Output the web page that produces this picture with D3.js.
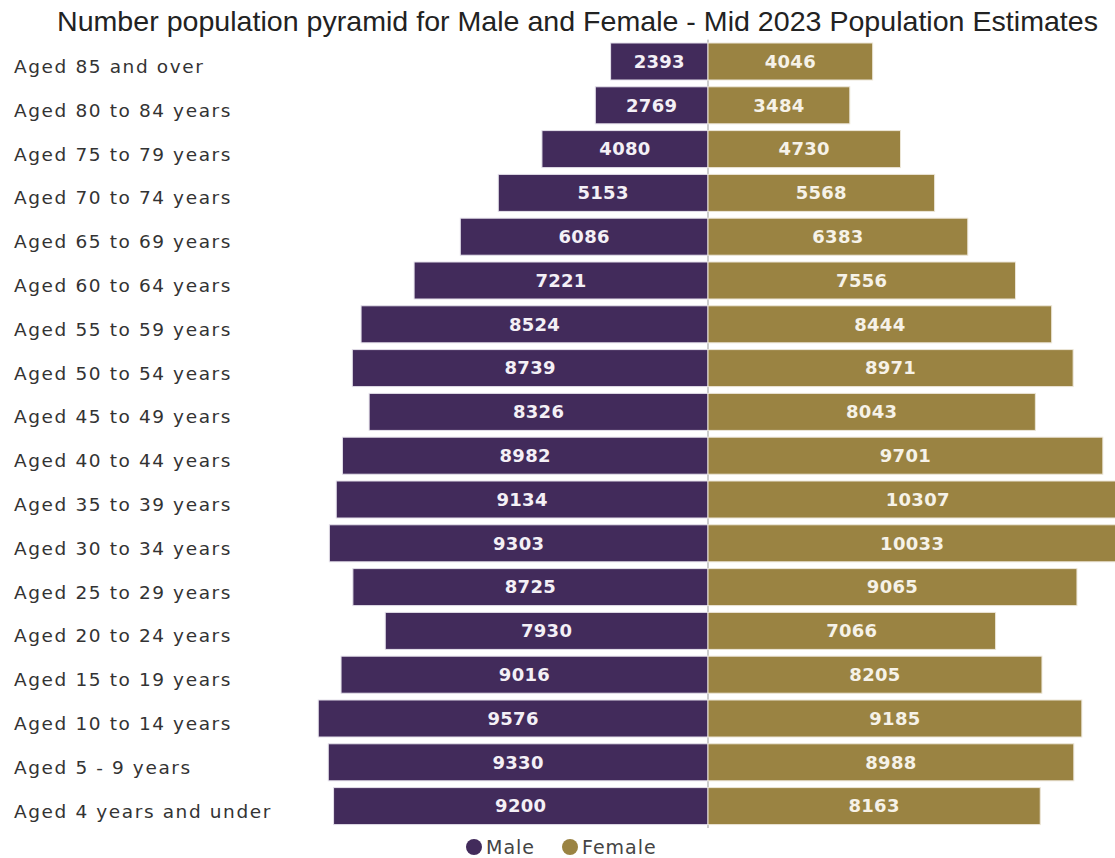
<!DOCTYPE html>
<html>
<head>
<meta charset="utf-8">
<script src="https://cdn.jsdelivr.net/npm/d3@7"></script>
<style>
  body { margin: 0; background: #fff; overflow: hidden; }
</style>
</head>
<body>
<div class="chart"></div>
<script>
// age bands, top to bottom
const ageGroups = [
  'Aged 85 and over', 'Aged 80 to 84 years', 'Aged 75 to 79 years', 'Aged 70 to 74 years',
  'Aged 65 to 69 years', 'Aged 60 to 64 years', 'Aged 55 to 59 years', 'Aged 50 to 54 years',
  'Aged 45 to 49 years', 'Aged 40 to 44 years', 'Aged 35 to 39 years', 'Aged 30 to 34 years',
  'Aged 25 to 29 years', 'Aged 20 to 24 years', 'Aged 15 to 19 years', 'Aged 10 to 14 years',
  'Aged 5 - 9 years', 'Aged 4 years and under'
];
const male = [2393, 2769, 4080, 5153, 6086, 7221, 8524, 8739, 8326, 8982, 9134, 9303, 8725, 7930, 9016, 9576, 9330, 9200];
const female = [4046, 3484, 4730, 5568, 6383, 7556, 8444, 8971, 8043, 9701, 10307, 10033, 9065, 7066, 8205, 9185, 8988, 8163];
const seriesNames = ['Male', 'Female'];

(() => {
    const width = 1115,
          height = 858,
          centre = 708;

    const colors = { Male: '#422b5b', Female: '#9a8342' };

    const svg = d3.select('.chart')
        .append('svg')
        .attr('width', width)
        .attr('height', height)
        .style('font-family', 'Liberation Sans, Arial, sans-serif');

    const x = d3.scaleLinear()
        .domain([0, 10000])
        .range([0, 407]);

    const y = d3.scaleBand()
        .domain(ageGroups)
        .range([39.6, 828])
        .paddingInner(0.155)
        .paddingOuter(0.0775);

    const rows = ageGroups.map((g, i) => ({ group: g, Male: male[i], Female: female[i] }));

    svg.append('text')
        .attr('x', 577.5)
        .attr('y', 31)
        .attr('text-anchor', 'middle')
        .attr('font-size', 28.5)
        .attr('fill', '#222')
        .attr('textLength', 1041)
        .attr('lengthAdjust', 'spacingAndGlyphs')
        .text('Number population pyramid for Male and Female - Mid 2023 Population Estimates');

    // centre line
    svg.append('line')
        .attr('x1', centre).attr('x2', centre)
        .attr('y1', y.range()[0]).attr('y2', y.range()[1])
        .attr('stroke', '#999')
        .attr('stroke-width', 1);

    const row = svg.selectAll('.row')
        .data(rows)
        .enter().append('g')
        .attr('class', 'row')
        .attr('transform', d => `translate(0,${y(d.group)})`);

    row.append('text')
        .attr('x', 14)
        .attr('y', y.bandwidth() / 2 + 5)
        .attr('dy', '0.35em')
        .attr('font-family', 'DejaVu Sans, sans-serif')
        .attr('font-size', 18.5)
        .attr('letter-spacing', 1.6)
        .attr('fill', '#333')
        .text(d => d.group);

    row.append('rect')
        .attr('x', d => centre - x(d.Male))
        .attr('width', d => x(d.Male))
        .attr('height', y.bandwidth())
        .attr('fill', colors.Male)
        .attr('stroke', '#e4e0ea')
        .attr('stroke-width', 1);

    row.append('rect')
        .attr('x', centre)
        .attr('width', d => x(d.Female))
        .attr('height', y.bandwidth())
        .attr('fill', colors.Female)
        .attr('stroke', '#ece6d8')
        .attr('stroke-width', 1);

    row.append('text')
        .attr('x', d => centre - x(d.Male) / 2)
        .attr('y', y.bandwidth() / 2)
        .attr('dy', '0.35em')
        .attr('text-anchor', 'middle')
        .attr('font-family', 'DejaVu Sans, sans-serif')
        .attr('font-size', 18)
        .attr('font-weight', 'bold')
        .attr('letter-spacing', 0.3)
        .attr('fill', '#f4f0f6')
        .text(d => d.Male);

    row.append('text')
        .attr('x', d => centre + x(d.Female) / 2)
        .attr('y', y.bandwidth() / 2)
        .attr('dy', '0.35em')
        .attr('text-anchor', 'middle')
        .attr('font-family', 'DejaVu Sans, sans-serif')
        .attr('font-size', 18)
        .attr('font-weight', 'bold')
        .attr('letter-spacing', 0.3)
        .attr('fill', '#f6f2e8')
        .text(d => d.Female);

    // legend
    const legend = svg.append('g')
        .attr('transform', 'translate(474,847)');

    const legendX = [0, 96];
    seriesNames.forEach((name, i) => {
        legend.append('circle')
            .attr('cx', legendX[i])
            .attr('cy', 0)
            .attr('r', 8)
            .attr('fill', colors[name]);
        legend.append('text')
            .attr('x', legendX[i] + 12)
            .attr('y', 0)
            .attr('dy', '0.35em')
            .attr('font-family', 'DejaVu Sans, sans-serif')
            .attr('font-size', 19)
            .attr('letter-spacing', 1)
            .attr('fill', '#444')
            .text(name);
    });
})();
</script>
</body>
</html>
